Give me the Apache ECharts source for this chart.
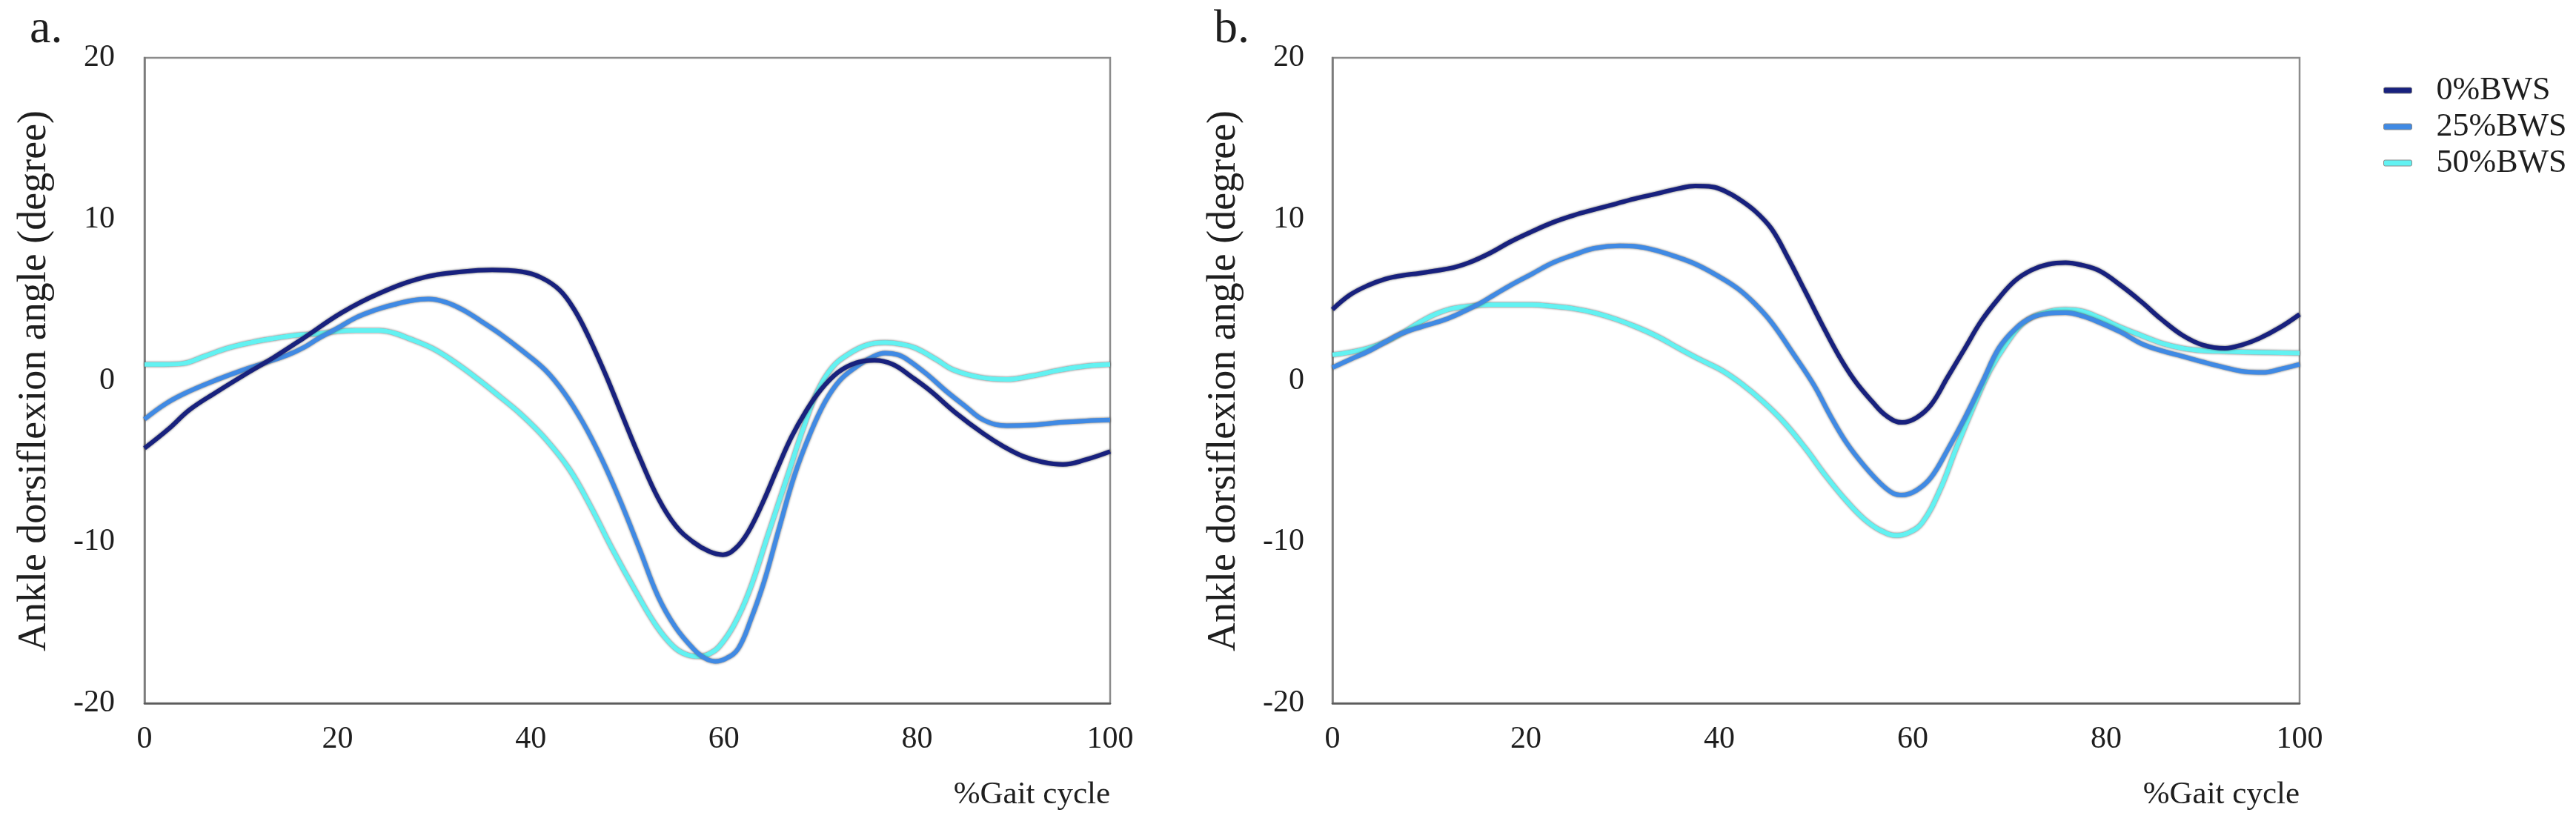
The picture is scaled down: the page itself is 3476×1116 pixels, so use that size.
<!DOCTYPE html>
<html>
<head>
<meta charset="utf-8">
<script src="https://cdn.jsdelivr.net/npm/echarts@6/dist/echarts.min.js"></script>
<style>
  html, body { margin: 0; padding: 0; background: #ffffff; }
  #chart { width: 3476px; height: 1116px; }
</style>
</head>
<body>
<div id="chart"></div>
<script>
// ---- Data ----
const seriesNames = ['0%BWS', '25%BWS', '50%BWS'];
const yTicks = [-20, -10, 0, 10, 20];
const xTicks = [0, 20, 40, 60, 80, 100];

// Panel a
const aX0 = [0, 2.5, 4.7, 7.5, 10.2, 13.3, 16.4, 20.4, 24.3, 29, 33, 36, 39, 41, 43, 44.5, 46, 47.8, 49.5, 51.3, 53.2, 55, 56.8, 58.5, 59.9, 61.2, 62.5, 64, 65.5, 67, 68.5, 70, 71.8, 73.7, 75.6, 77.5, 79.5, 81.4, 84, 86.9, 89, 91, 93, 95.1, 97.5, 100];
const aY0 = [-4.2, -3.0, -1.8, -0.7, 0.3, 1.4, 2.6, 4.2, 5.4, 6.4, 6.75, 6.85, 6.75, 6.4, 5.6, 4.4, 2.7, 0.3, -2.2, -4.8, -7.3, -9.0, -10.0, -10.6, -10.8, -10.4, -9.4, -7.6, -5.5, -3.5, -1.9, -0.6, 0.5, 1.1, 1.25, 1.0, 0.2, -0.65, -2.0, -3.3, -4.1, -4.7, -5.05, -5.2, -4.9, -4.4];

const aX25 = [0, 2.3, 4.7, 7.5, 10.2, 12.5, 14.9, 16.5, 18, 20, 21.9, 23.8, 25.8, 27.6, 29.4, 31.2, 32.9, 34.8, 36.8, 39, 41.5, 43.5, 45.4, 47.3, 49.3, 51.3, 53.2, 55, 56.8, 58, 59.1, 60.3, 61.5, 62.8, 64.2, 65.7, 67.3, 69, 70.5, 72, 73.6, 75.2, 76.7, 78, 79, 81, 83, 85, 86.9, 89.3, 92, 94.8, 97.5, 100];
const aY25 = [-2.4, -1.4, -0.65, 0.05, 0.65, 1.1, 1.6, 2.05, 2.6, 3.25, 3.9, 4.35, 4.7, 4.95, 5.05, 4.85, 4.4, 3.7, 2.9, 1.9, 0.65, -0.8, -2.6, -4.8, -7.5, -10.5, -13.4, -15.3, -16.6, -17.2, -17.4, -17.2, -16.6, -14.8, -12.4, -9.2, -5.9, -3.2, -1.3, 0, 0.8, 1.4, 1.7, 1.6, 1.3, 0.4, -0.65, -1.6, -2.45, -2.8, -2.75, -2.6, -2.5, -2.45];

const aX50 = [0, 2, 3.9, 6.2, 8.6, 11, 13.3, 15.6, 18, 20, 21.9, 24.3, 25.8, 27.4, 29.8, 32.1, 34.5, 36.8, 39, 41.5, 44, 46.2, 48.5, 50.9, 53, 54.8, 56.2, 57.5, 58.6, 59.5, 61, 62.6, 64.6, 66.6, 68.2, 69.7, 71.2, 72.8, 74.8, 76.7, 78.4, 79.9, 82, 83.8, 86.5, 89.3, 92, 94.8, 97.5, 100];
const aY50 = [1.0, 1.0, 1.05, 1.5, 2.0, 2.35, 2.6, 2.8, 2.9, 3.05, 3.1, 3.1, 2.95, 2.6, 2.0, 1.15, 0.1, -1.0, -2.1, -3.6, -5.5, -7.8, -10.5, -13.1, -15.2, -16.5, -17.0, -17.1, -16.9, -16.5, -15.2, -13.1, -9.5, -5.9, -3.0, -0.65, 0.8, 1.6, 2.2, 2.35, 2.25, 2.0, 1.3, 0.65, 0.2, 0.07, 0.3, 0.65, 0.9, 1.0];

// Panel b
const bX0 = [0, 1.8, 3.7, 5.5, 7.1, 9, 10.6, 12.5, 14.1, 16.3, 18.4, 20.5, 22.8, 25, 27.1, 29.3, 31.5, 33.7, 35.8, 37.5, 39.3, 40.7, 41.9, 43.7, 45.4, 47.1, 48.9, 50.6, 52.3, 54, 55.8, 57.3, 58.9, 60.4, 61.9, 63.6, 65.4, 67.1, 68.9, 70.6, 72.3, 74, 75.8, 77.5, 79.3, 81.5, 83.6, 85.7, 87.9, 90, 92.3, 94, 95.8, 98, 100];
const bY0 = [4.4, 5.3, 5.9, 6.3, 6.5, 6.65, 6.8, 7.0, 7.3, 7.9, 8.6, 9.2, 9.8, 10.25, 10.6, 10.95, 11.3, 11.6, 11.9, 12.05, 12.0, 11.7, 11.3, 10.5, 9.4, 7.6, 5.5, 3.5, 1.6, 0.0, -1.3, -2.2, -2.6, -2.3, -1.5, 0.2, 2.0, 3.7, 5.1, 6.2, 6.85, 7.2, 7.3, 7.15, 6.8, 5.9, 4.9, 3.8, 2.8, 2.2, 2.0, 2.2, 2.6, 3.3, 4.1];

const bX25 = [0, 1.8, 3.7, 5.5, 7.1, 9.3, 11.5, 13.3, 15, 16.7, 18.4, 20.6, 22.8, 25, 27.1, 29.7, 31.5, 33.2, 35.4, 37.6, 39.8, 41.9, 43.6, 45.4, 47.6, 49.8, 51.5, 53.2, 55, 56.7, 58, 58.9, 60.4, 61.9, 63.6, 65.4, 67.2, 68.9, 70.6, 72.3, 74, 75.8, 77.5, 79.3, 81.5, 83.6, 85.7, 87.9, 90, 92.3, 94.3, 96.2, 98, 100];
const bY25 = [0.8, 1.3, 1.8, 2.4, 2.9, 3.35, 3.75, 4.2, 4.7, 5.3, 5.9, 6.6, 7.3, 7.8, 8.2, 8.35, 8.3, 8.1, 7.7, 7.2, 6.5, 5.7, 4.8, 3.6, 1.7, -0.3, -2.2, -3.9, -5.3, -6.4, -7.0, -7.1, -6.8, -6.0, -4.3, -2.3, -0.1, 2.0, 3.2, 3.9, 4.15, 4.2, 4.0, 3.6, 3.0, 2.3, 1.85, 1.5, 1.15, 0.8, 0.55, 0.5, 0.7, 1.0];

const bX50 = [0, 1.8, 3.7, 5.5, 7.1, 9, 10.6, 12.3, 14.1, 16.2, 18.4, 20.6, 22.8, 25, 27.1, 29.3, 31.5, 33.7, 35.8, 38, 40.2, 42.3, 44.5, 46.7, 48.9, 51, 53.2, 55, 56.7, 58.4, 59.7, 61, 62.8, 64.5, 66.3, 68, 69.7, 71.5, 73.6, 75.8, 77.5, 79.3, 81.5, 83.6, 85.8, 87.9, 90, 92.3, 96, 100];
const bY50 = [1.6, 1.75, 2.0, 2.4, 2.9, 3.6, 4.1, 4.45, 4.6, 4.7, 4.7, 4.7, 4.6, 4.45, 4.2, 3.8, 3.3, 2.7, 2.0, 1.3, 0.65, -0.2, -1.3, -2.6, -4.2, -5.9, -7.5, -8.6, -9.3, -9.6, -9.4, -8.8, -6.8, -4.2, -1.6, 0.65, 2.3, 3.6, 4.2, 4.4, 4.3, 3.9, 3.3, 2.8, 2.3, 2.0, 1.85, 1.8, 1.75, 1.7];

// ---- Styling ----
const colors = { '0%BWS': '#18217e', '25%BWS': '#408ae4', '50%BWS': '#62f2f2' };
const FONT = '"Liberation Serif", "Times New Roman", serif';
const TXT = '#1e1e1e';

function pairs(xs, ys) { return xs.map((x, i) => [x, ys[i]]); }

function lineSeries(name, xs, ys, gi) {
  return {
    name: name, type: 'line', xAxisIndex: gi, yAxisIndex: gi,
    data: pairs(xs, ys), smooth: 0.4, showSymbol: false, symbol: 'none',
    lineStyle: { color: colors[name], width: 6, shadowColor: 'rgba(60,60,60,0.85)', shadowBlur: 3 },
    itemStyle: { color: colors[name] },
    emphasis: { disabled: true }, animation: false
  };
}

const grids = [
  { left: 195, top: 78, width: 1303, height: 871 },
  { left: 1798, top: 78, width: 1305, height: 871 }
];

function xAxisFor(gi) {
  return {
    type: 'value', gridIndex: gi, min: 0, max: 100, interval: 20,
    axisLine: { show: true, onZero: false, lineStyle: { color: '#5a5a5a', width: 2.5 } },
    axisTick: { show: false }, splitLine: { show: false },
    axisLabel: { fontFamily: FONT, fontSize: 42, color: TXT, margin: 28, lineHeight: 42,
      formatter: v => xTicks.includes(v) ? String(v) : '' }
  };
}
function yAxisFor(gi, margin) {
  return {
    type: 'value', gridIndex: gi, min: -20, max: 20, interval: 10,
    axisLine: { show: true, lineStyle: { color: '#7a7a7a', width: 2.5 } },
    axisTick: { show: false }, splitLine: { show: false },
    axisLabel: { fontFamily: FONT, fontSize: 42, color: TXT, margin: margin,
      formatter: v => yTicks.includes(v) ? String(v) : '' }
  };
}

const chart = echarts.init(document.getElementById('chart'), null, { renderer: 'canvas' });

const option = {
  backgroundColor: '#ffffff',
  animation: false,
  grid: grids.map(g => Object.assign({ show: true, borderColor: '#8c8c8c', borderWidth: 2.5, backgroundColor: 'transparent' }, g)),
  xAxis: [xAxisFor(0), xAxisFor(1)],
  yAxis: [yAxisFor(0, 40), yAxisFor(1, 38)],
  legend: {
    data: seriesNames, orient: 'vertical', left: 3211, top: 93,
    icon: 'roundRect', itemWidth: 38, itemHeight: 8, itemGap: 1,
    itemStyle: { borderColor: '#8a8a8a', borderWidth: 1 },
    textStyle: { fontFamily: FONT, fontSize: 44, color: TXT, lineHeight: 48, padding: [0, 0, 0, 28] },
    selectedMode: false
  },
  graphic: [
    { type: 'text', left: 40, top: 8, style: { text: 'a.', fontFamily: FONT, fontSize: 64, fill: TXT } },
    { type: 'text', left: 1638, top: 8, style: { text: 'b.', fontFamily: FONT, fontSize: 64, fill: TXT } },
    { type: 'text', x: 1498, y: 1073, style: { text: '%Gait cycle', fontFamily: FONT, fontSize: 43, fill: TXT, align: 'right', verticalAlign: 'middle' } },
    { type: 'text', x: 3103, y: 1073, style: { text: '%Gait cycle', fontFamily: FONT, fontSize: 43, fill: TXT, align: 'right', verticalAlign: 'middle' } },
    { type: 'text', x: 47, y: 514, rotation: Math.PI / 2, style: { text: 'Ankle dorsiflexion angle (degree)', fontFamily: FONT, fontSize: 54, fill: TXT, align: 'center', verticalAlign: 'middle' } },
    { type: 'text', x: 1652, y: 514, rotation: Math.PI / 2, style: { text: 'Ankle dorsiflexion angle (degree)', fontFamily: FONT, fontSize: 54, fill: TXT, align: 'center', verticalAlign: 'middle' } }
  ],
  series: [
    lineSeries('50%BWS', aX50, aY50, 0),
    lineSeries('25%BWS', aX25, aY25, 0),
    lineSeries('0%BWS', aX0, aY0, 0),
    lineSeries('50%BWS', bX50, bY50, 1),
    lineSeries('25%BWS', bX25, bY25, 1),
    lineSeries('0%BWS', bX0, bY0, 1)
  ]
};
chart.setOption(option);
</script>
</body>
</html>
